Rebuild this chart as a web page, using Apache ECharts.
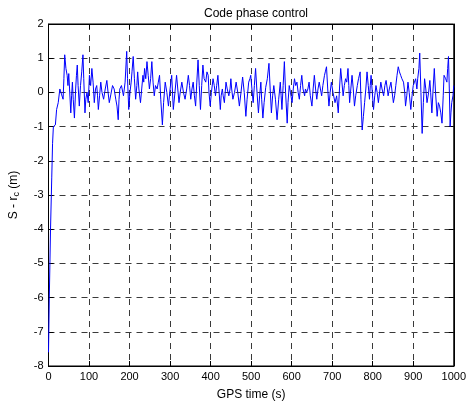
<!DOCTYPE html>
<html>
<head>
<meta charset="utf-8">
<script src="https://cdn.jsdelivr.net/npm/echarts@6/dist/echarts.min.js"></script>
<style>html,body{margin:0;padding:0;background:#fff;}#c{width:469px;height:409px;}</style>
</head>
<body>
<div id="c"></div>
<script>
var titleText = 'Code phase control';
var xName = 'GPS time (s)';
var xTicks = [0, 100, 200, 300, 400, 500, 600, 700, 800, 900, 1000];
var yTicks = [-8, -7, -6, -5, -4, -3, -2, -1, 0, 1, 2];
var times = [0,2,5,8,10,12,17,20,24,28,32,36,38,40,43,46,48,50,52,55,57,59,61,64,67,69,71,73,76,79,82,85,87,90,92,95,98,101,104,107,110,113,116,119,121,123,126,129,132,136,140,144,147,150,154,158,162,166,169,172,174,176,180,185,189,193,195,198,201,204,206,209,212,215,218,220,223,227,230,233,235,237,240,243,246,249,252,255,258,261,264,268,271,274,277,281,284,288,292,296,300,304,306,308,312,316,319,322,325,329,333,337,341,345,348,351,354,357,360,363,366,369,372,375,378,381,384,388,391,394,396,399,402,406,409,412,415,418,421,424,426,429,431,434,436,438,441,445,448,450,452,455,459,463,467,471,475,479,483,487,490,494,497,499,502,505,508,511,514,518,521,524,526,529,532,536,540,544,547,550,553,556,560,564,568,572,574,576,579,582,585,589,591,594,597,601,604,607,610,613,616,619,622,625,628,632,634,637,640,643,646,650,653,656,659,662,665,668,671,674,677,681,683,686,689,692,695,698,702,707,711,715,718,721,724,727,730,733,736,739,741,743,746,749,752,755,758,762,765,769,771,774,777,780,783,786,789,792,794,796,799,802,805,808,811,814,817,820,823,827,830,833,836,838,841,845,848,851,854,857,860,863,866,869,872,876,879,881,884,887,890,894,897,900,903,906,909,911,914,916,919,922,925,928,931,934,938,941,943,946,949,952,955,959,962,965,968,971,974,976,980,983,985,987,989,991,993,995,998,1000];
var values = [-7.6,-6.0,-4.0,-2.5,-1.5,-1.0,-0.95,-0.5,-0.3,0.1,-0.05,-0.2,0.4,1.1,0.7,0.5,0.2,0.55,0.1,-0.6,-0.1,0.3,-0.2,-0.75,0.1,0.5,0.8,0.2,-0.4,0.2,0.6,1.1,0.4,-0.6,-0.2,0.0,-0.3,0.5,0.2,0.7,0.3,-0.3,0.1,0.2,-0.1,-0.5,-0.1,0.3,0.0,-0.2,0.1,0.35,0.0,-0.3,-0.05,0.2,0.1,-0.2,-0.4,-0.8,-0.2,0.1,0.2,-0.1,0.3,1.2,0.4,-0.5,0.0,0.3,0.6,1.05,0.4,-0.2,0.2,0.6,0.1,-0.3,0.1,0.5,0.3,0.7,0.4,0.9,0.5,0.1,0.4,0.9,0.3,-0.1,0.2,0.1,0.3,0.5,-0.2,-0.95,-0.3,0.3,0.0,-0.4,0.1,0.5,0.0,-0.5,0.0,0.5,0.1,-0.3,0.0,0.3,0.0,-0.2,0.1,0.5,0.2,-0.2,0.1,0.3,-0.1,-0.4,0.3,0.95,0.2,-0.5,0.2,0.8,0.4,0.3,0.6,0.5,0.0,-0.4,0.0,0.4,0.2,-0.1,0.2,0.5,0.0,-0.5,-0.1,0.1,-0.1,-0.3,0.0,0.3,0.1,-0.1,0.1,0.4,0.1,-0.2,0.0,0.3,0.0,-0.4,0.0,0.45,0.0,-0.7,-0.2,0.3,0.4,0.5,0.1,-0.3,0.2,0.7,0.1,-0.6,-0.1,0.3,-0.2,-0.75,-0.3,0.15,0.4,0.85,0.1,-0.6,-0.1,0.2,-0.2,-0.8,-0.2,0.3,-0.1,-0.5,0.2,0.9,0.0,-0.9,-0.3,0.2,0.0,-0.3,0.1,0.4,0.2,0.3,0.0,-0.2,0.2,0.5,0.1,-0.1,0.1,0.0,0.1,0.3,-0.1,-0.4,0.1,0.5,0.1,-0.2,0.1,0.3,0.1,-0.1,0.2,0.5,0.6,0.75,0.1,-0.4,0.0,0.3,0.0,-0.3,-0.1,-0.6,0.1,0.7,0.3,-0.1,0.2,0.4,0.3,0.7,0.2,-0.3,0.1,0.5,0.1,-0.4,-0.1,0.2,0.4,0.6,-0.2,-1.1,-0.7,-0.3,0.1,0.6,0.2,-0.2,0.2,0.5,0.0,-0.5,-0.1,0.2,0.0,-0.3,0.0,0.3,0.1,-0.1,0.2,0.35,0.1,-0.1,0.1,0.3,0.0,-0.3,-0.1,0.2,0.5,0.75,0.6,0.5,0.4,0.3,0.0,-0.4,-0.1,0.3,0.0,-0.5,-0.1,0.2,0.3,0.4,0.1,0.4,0.7,1.15,0.0,-1.2,-0.3,0.4,0.1,-0.3,0.0,0.35,0.0,-0.6,0.1,0.7,0.0,-0.7,-0.3,-0.4,-0.6,-0.9,-0.1,0.5,0.4,0.3,0.7,1.05,0.1,-1.0,-0.6,-0.3,-0.1,0.2];

var data = times.map(function (t, i) { return [t, values[i]]; });
var font = 'Liberation Sans, Arial, sans-serif';
var chart = echarts.init(document.getElementById('c'), null, {renderer: 'canvas'});
var gridLine = {show: true, lineStyle: {color: '#3a3a3a', width: 1, type: [6, 5]}};
chart.setOption({
  animation: false,
  backgroundColor: '#fff',
  title: {
    text: titleText, left: 251, top: 3, textAlign: 'center',
    textStyle: {fontFamily: font, fontSize: 12, fontWeight: 'normal', color: '#000'}
  },
  grid: {left: 47, right: 12, top: 24, bottom: 43, show: true, borderColor: '#000', borderWidth: 1},
  xAxis: [{
    type: 'value', min: xTicks[0], max: xTicks[xTicks.length - 1], interval: 100,
    name: xName, nameLocation: 'middle', nameGap: 23,
    nameTextStyle: {fontFamily: font, fontSize: 12, color: '#000'},
    axisLine: {show: true, onZero: false, lineStyle: {color: '#000', width: 1}},
    axisTick: {show: true, inside: true, length: 5, lineStyle: {color: '#000'}},
    axisLabel: {fontFamily: font, fontSize: 11, color: '#000', margin: 5,
      formatter: function (v) { return String(v); }},
    splitLine: gridLine
  }, {
    type: 'value', position: 'top', min: xTicks[0], max: xTicks[xTicks.length - 1], interval: 100,
    axisLine: {show: true, onZero: false, lineStyle: {color: '#000'}},
    axisTick: {show: true, inside: true, length: 5, lineStyle: {color: '#000'}},
    axisLabel: {show: false}, splitLine: {show: false}
  }],
  yAxis: [{
    type: 'value', min: yTicks[0], max: yTicks[yTicks.length - 1], interval: 1,
    name: 'S - r{sub|c} (m)', nameLocation: 'middle', nameGap: 27, nameRotate: 90,
    nameTextStyle: {fontFamily: font, fontSize: 12, color: '#000',
      rich: {sub: {fontFamily: font, fontSize: 9, color: '#000', verticalAlign: 'bottom', padding: [6, 0, 0, 0]}}},
    axisLine: {show: true, onZero: false, lineStyle: {color: '#000', width: 1}},
    axisTick: {show: true, inside: true, length: 5, lineStyle: {color: '#000'}},
    axisLabel: {fontFamily: font, fontSize: 11, color: '#000', margin: 5},
    splitLine: gridLine
  }, {
    type: 'value', position: 'right', min: yTicks[0], max: yTicks[yTicks.length - 1], interval: 1,
    axisLine: {show: true, onZero: false, lineStyle: {color: '#000'}},
    axisTick: {show: true, inside: true, length: 5, lineStyle: {color: '#000'}},
    axisLabel: {show: false}, splitLine: {show: false}
  }],
  series: [{
    type: 'line', data: data, showSymbol: false, symbol: 'none',
    lineStyle: {color: '#0000ff', width: 1}, itemStyle: {color: '#0000ff'}
  }]
});
</script>
</body>
</html>
